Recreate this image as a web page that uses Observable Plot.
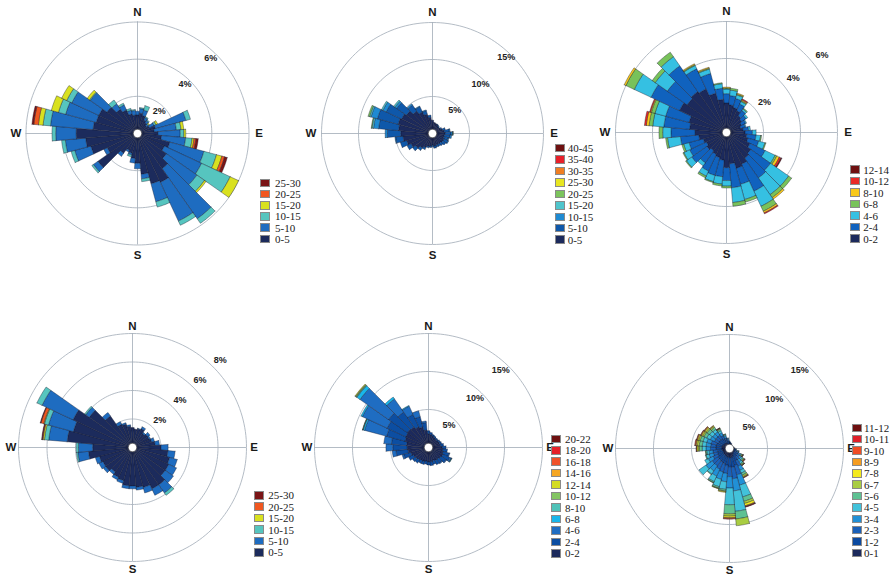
<!DOCTYPE html>
<html><head><meta charset="utf-8">
<script src="https://cdn.jsdelivr.net/npm/d3@7"></script>
<script src="https://cdn.jsdelivr.net/npm/@observablehq/plot@0.6"></script>
<style>
body{margin:0;background:#fff;}
#wrap{position:relative;width:891px;height:576px;overflow:hidden;background:#fff;}
.rose{position:absolute;}
.legend{position:absolute;left:0;top:0;font-family:"Liberation Serif","Times New Roman","DejaVu Serif",serif;font-size:11px;color:#1a1a1a;line-height:1;}
.legend .sw{position:absolute;width:8px;height:6.5px;border:1px solid #8a8a8a;}
.legend .tx{position:absolute;white-space:nowrap;line-height:12px;height:12px;}
</style></head><body><div id="wrap"></div>
<script>
// ---- directions (sector centres, degrees clockwise from north)
const directions = d3.range(0, 360, 10);
const compass = ["N", "E", "S", "W"];

// ---- speed bins and colours
const bins1 = ["0-5","5-10","10-15","15-20","20-25","25-30"];
const colors1 = ["#1c2b5c","#1e6cc0","#56c5bf","#d9e11f","#f0571f","#7a1416"];
const bins2 = ["0-5","5-10","10-15","15-20","20-25","25-30","30-35","35-40","40-45"];
const colors2 = ["#1c2a5c","#0f58aa","#1f8ad2","#4fc5cc","#7cc45c","#e8e620","#f07e22","#e8202a","#6e1010"];
const bins3 = ["0-2","2-4","4-6","6-8","8-10","10-12","12-14"];
const colors3 = ["#1c2a5c","#1062be","#35c0e2","#78c25a","#f9c91a","#ea2a26","#6e1010"];
const bins4 = ["0-5","5-10","10-15","15-20","20-25","25-30"];
const colors4 = ["#1c2b5c","#1e6cc0","#56c5bf","#d9e11f","#f0571f","#7a1416"];
const bins5 = ["0-2","2-4","4-6","6-8","8-10","10-12","12-14","14-16","16-18","18-20","20-22"];
const colors5 = ["#1c2a5c","#0c4ea2","#1f6dc2","#18b6ea","#4fc2b8","#84c563","#d4dc22","#f5a623","#f0522a","#e62029","#6e1010"];
const bins6 = ["0-1","1-2","2-3","3-4","4-5","5-6","6-7","7-8","8-9","9-10","10-11","11-12"];
const colors6 = ["#1c2a5c","#0c4aa0","#1a60b8","#2190d6","#42c2da","#5ec192","#a9cd42","#f4ea1e","#f59c20","#f04c24","#e0202a","#6e1010"];

// ---- ring (tick) values
const rings1 = [2, 4, 6];
const rings2 = [5, 10, 15];
const rings3 = [2, 4, 6];
const rings4 = [2, 4, 6, 8];
const rings5 = [5, 10, 15];
const rings6 = [5, 10, 15];

// ---- frequencies (%) per direction (0,10,...,350), per speed bin
const freq1 = [
[1.0,0.2],[1.1,0.25,0.05],[1.0,0.3,0.25],[0.8,0.15,0.05],[0.7,0.15,0.05],[0.6,0.1,0.05,0.05],
[0.7,0.3,0.1,0.1],[1.0,1.7,0.25],[0.9,1.2,0.25,0.15],[1.1,1.2,0.2,0.1],[1.3,1.3,0.35,0.1,0.1,0.13],[1.8,1.9,0.7,0.3,0.15,0.15],
[1.6,2.2,1.7,0.5],[1.9,2.0,0.5,0.1],[2.3,3.3,0.3],[2.9,2.3,0.25],[2.8,1.0,0.3],[2.2,0.25,0.15],
[1.6,0.3],[1.35,0.25],[1.1,0.1,0.1],[1.0,0.1],[1.3,0.2],[2.6,0.3,0.1],
[1.8,0.2],[2.6,0.9,0.2],[2.8,1.1,0.2],[3.3,1.1,0.2],[2.4,2.3,0.4,0.25,0.25,0.1],[2.3,1.7,0.4,0.4],
[2.3,1.6,0.3,0.3],[2.0,1.1,0.05,0.15],[1.6,0.35,0.25],[1.4,0.3,0.1],[1.1,0.2,0.1],[1.0,0.25,0.05]
];
const freq2 = [
[1.8],[1.5],[1.4],[1.3,0.1],[1.2,0.1],[1.1,0.1],
[1.2,0.2],[1.4,0.4],[1.6,0.7,0.1],[1.7,0.8,0.2,0.05,0.05],[1.6,0.8,0.2],[1.6,0.6,0.1],
[1.7,0.6,0.1],[1.7,0.5],[1.6,0.4],[1.6,0.3],[1.6,0.3],[1.7,0.3],
[1.6,0.2],[1.7,0.2],[1.8,0.2],[2.1,0.3],[2.4,0.4],[2.8,0.5],
[3.2,0.6],[3.6,0.9],[4.0,1.0,0.1],[4.3,1.8,0.3],[4.6,2.7,0.7,0.2,0.1],[4.8,2.9,0.9,0.2,0.2],
[4.6,2.3,0.5,0.2],[4.3,1.6,0.3,0.2],[3.7,1.0,0.2],[3.2,0.8,0.1],[2.7,0.5,0.1],[2.2,0.3]
];
const freq3 = [
[1.6,0.5,0.25,0.05,0.05],[1.5,0.5,0.3,0.1],[1.4,0.5,0.2,0.05,0.05],[1.3,0.4,0.15,0.05,0.05,0.05],[1.1,0.35,0.1,0.05],[1.0,0.3,0.1],
[0.9,0.25,0.05],[0.8,0.25,0.05],[0.9,0.3,0.1],[1.0,0.4,0.2],[1.1,0.5,0.25,0.05],[1.2,0.6,0.35,0.05],
[1.4,0.9,0.6,0.1,0.15,0.1,0.05],[1.6,1.3,1.2,0.2],[1.7,1.3,1.1,0.2,0.1],[1.9,1.6,0.9,0.3,0.1,0.05],[2.0,0.9,0.85,0.15],[1.7,1.3,0.8,0.2],
[1.9,0.7,0.3,0.1],[1.5,0.9,0.4,0.1],[1.4,1.0,0.35,0.05],[1.3,1.0,0.3,0.1],[1.2,0.8,0.2],[1.3,1.0,0.35,0.05],
[1.2,1.0,0.35,0.05],[1.3,0.8,0.3,0.1],[1.5,1.0,0.7,0.1],[1.7,1.3,0.45,0.2],[2.0,1.4,0.6,0.2,0.15,0.1],[2.1,1.3,0.6,0.2,0.05,0.05],
[2.8,1.7,1.0,0.5,0.1],[2.6,1.3,0.8,0.2],[2.7,1.7,0.6,0.3],[2.6,1.2,0.2,0.05,0.05],[2.2,1.1,0.25,0.05,0.05],[1.8,0.6,0.25,0.05]
];
const freq4 = [
[1.4],[1.3],[1.35,0.05],[1.45,0.15],[1.2,0.1],[1.3,0.2],
[1.3,0.1],[1.4,0.2],[1.6,0.3],[2.0,0.5],[2.5,0.5],[2.7,0.55],
[2.8,0.6],[2.8,0.7],[3.2,0.7,0.2],[3.2,0.5],[2.9,0.4],[2.8,0.2],
[2.7,0.2],[2.7,0.2],[2.4,0.2],[2.3,0.2],[2.1,0.2],[2.3,0.2],
[2.3,0.3],[2.4,0.3],[3.1,0.75,0.1],[2.8,1.0,0.15],[4.6,1.3,0.3,0.1,0.05,0.05],[4.3,1.8,0.3,0.05,0.2,0.05],
[4.6,2.4,0.4],[3.7,0.3,0.1],[2.7,0.3],[1.8,0.2],[1.7,0.1],[1.5,0.1]
];
const freq5 = [
[1.8,0.4],[1.7,0.3],[1.6,0.2],[1.5,0.2],[1.4,0.2],[1.4,0.2],
[1.5,0.2],[1.5,0.3],[1.6,0.4],[1.8,0.5],[1.9,0.6],[2.0,0.8,0.1],
[2.1,1.0,0.2,0.05,0.05],[2.0,0.8,0.1],[1.9,0.6,0.1],[1.9,0.6],[1.8,0.5],[1.9,0.5],
[1.9,0.4],[1.8,0.4],[1.9,0.4],[1.9,0.4],[2.0,0.5],[2.1,0.5],
[2.2,0.7],[2.4,1.0,0.2],[2.7,1.6,0.5],[2.8,1.9,0.9],[2.9,2.0,1.0],[3.2,2.5,3.0,0.2,0.05,0.05],
[3.3,2.7,3.6,0.2],[3.4,3.0,4.6,0.5,0.1,0.1,0.1],[3.3,2.4,2.1,0.3],[3.0,1.8,1.2,0.1],[2.8,1.4,0.8],[2.3,1.0,0.2]
];
const freq6 = [
[0.5,0.25,0.15,0.1],[0.45,0.2,0.1,0.05],[0.4,0.2,0.1],[0.35,0.15,0.1],[0.3,0.1,0.1],[0.3,0.1,0.1],
[0.3,0.1,0.1],[0.3,0.1,0.1],[0.3,0.15,0.1,0.05],[0.35,0.15,0.1,0.1],[0.4,0.2,0.15,0.1,0.05],[0.5,0.3,0.2,0.15,0.1,0.05],
[0.6,0.4,0.3,0.25,0.15,0.1,0.1,0.05,0.03,0.02],[0.7,0.5,0.4,0.3,0.2,0.15,0.1,0.05,0.05,0.05],[0.7,0.6,0.5,0.4,0.25,0.15,0.1,0.05,0.03,0.02],[0.9,0.9,0.8,0.6,0.4,0.3,0.2,0.1,0.05,0.05],[1.1,1.2,1.3,1.4,1.6,0.6,0.3,0.3,0.1,0.05,0.05],[1.2,1.3,1.5,1.6,2.7,1.0,0.9],
[1.2,1.2,1.3,1.5,2.2,1.2,0.3,0.2,0.1,0.1],[1.1,1.1,1.1,1.1,1.0,0.2,0.1,0.1],[1.1,1.0,1.1,1.0,1.0,0.2,0.05,0.05],[1.0,1.0,1.0,1.0,0.8,0.15,0.05],[1.0,0.9,0.9,0.8,0.5,0.1],[1.0,0.9,0.9,1.0,1.1],
[0.9,0.8,0.7,0.7,0.5],[0.9,0.7,0.6,0.6,0.4,0.1],[0.9,0.7,0.6,0.5,0.3,0.15,0.05],[1.0,0.8,0.7,0.6,0.5,0.35,0.2,0.15,0.05,0.05],[1.0,0.8,0.7,0.6,0.5,0.4,0.25,0.15,0.1,0.1],[1.0,0.8,0.7,0.6,0.5,0.4,0.2,0.15,0.1,0.05],
[0.9,0.7,0.6,0.6,0.5,0.4,0.2,0.15,0.1,0.05],[0.9,0.7,0.6,0.5,0.5,0.4,0.2,0.15,0.1,0.05],[0.9,0.7,0.6,0.5,0.4,0.3,0.15,0.1,0.05],[0.8,0.6,0.5,0.4,0.3,0.2,0.1,0.05,0.03,0.02],[0.7,0.45,0.3,0.25,0.15,0.1,0.05],[0.6,0.35,0.25,0.15,0.05]
];

// ---- panel layout
const panels = [
  {freq: freq1, bins: bins1, colors: colors1, rings: rings1, cx: 137,   cy: 133.3, R: 111.5, lab: {ang: 44, off: -6},
   legend: {x: 260, tx: 275, y: 183, step: 11.16}},
  {freq: freq2, bins: bins2, colors: colors2, rings: rings2, cx: 431.7, cy: 133.3, R: 111,   lab: {ang: 44, off: -5},
   legend: {x: 555, tx: 567.7, y: 148, step: 11.46}},
  {freq: freq3, bins: bins3, colors: colors3, rings: rings3, cx: 725.8, cy: 131.7, R: 111,   lab: {ang: 51, off: 12},
   legend: {x: 849.5, tx: 863.3, y: 169.7, step: 11.5}},
  {freq: freq4, bins: bins4, colors: colors4, rings: rings4, cx: 131.7, cy: 446.7, R: 114,   lab: {ang: 45, off: 10},
   legend: {x: 254, tx: 268.3, y: 495.3, step: 11.4}},
  {freq: freq5, bins: bins5, colors: colors5, rings: rings5, cx: 427.7, cy: 446.7, R: 114,   lab: {ang: 43, off: -8},
   legend: {x: 550.7, tx: 565, y: 438.8, step: 11.45}},
  {freq: freq6, bins: bins6, colors: colors6, rings: rings6, cx: 729.3, cy: 447.7, R: 114,   lab: {ang: 42, off: -9},
   legend: {x: 851.7, tx: 864, y: 427.8, step: 11.38}}
];

const wrap = document.getElementById("wrap");
const HALF = 130;
const rad = d => d * Math.PI / 180;

function rose(p) {
  const maxR = p.rings[p.rings.length - 1];
  const u = maxR / p.R;           // data units per pixel
  const D = HALF * u;
  const pol = (deg, r) => [r * Math.sin(rad(deg)), r * Math.cos(rad(deg))];

  // wedge polygons
  const wedges = [];
  directions.forEach((dir, i) => {
    let r0 = 0;
    p.bins.forEach((b, j) => {
      const v = p.freq[i][j] || 0;
      if (v <= 0) return;
      const r1 = r0 + v, id = dir + "_" + j;
      const pts = [];
      for (let a = dir - 5; a <= dir + 5 + 1e-9; a += 1) pts.push(pol(a, r1));
      for (let a = dir + 5; a >= dir - 5 - 1e-9; a -= 1) pts.push(pol(a, r0));
      pts.push(pts[0]);
      pts.forEach(([x, y]) => wedges.push({id, bin: b, x, y}));
      r0 = r1;
    });
  });

  // ring circles
  const ringPts = [];
  p.rings.forEach(r => { for (let a = 0; a <= 360; a += 2) { const [x, y] = pol(a, r); ringPts.push({ring: r, x, y}); } });

  const dirLabels = compass.map((t, k) => { const [x, y] = pol(k * 90, 121.5 * u); return {t, x, y}; });
  const ringLabels = p.rings.map(r => { const [x, y] = pol(p.lab.ang, r + p.lab.off * u); return {t: r + "%", x, y}; });

  const svg = Plot.plot({
    width: 2 * HALF, height: 2 * HALF, margin: 0,
    x: {domain: [-D, D], axis: null},
    y: {domain: [-D, D], axis: null},
    color: {domain: p.bins, range: p.colors},
    style: {background: "transparent", overflow: "visible", fontFamily: "'Liberation Sans', Arial, sans-serif"},
    marks: [
      Plot.line(ringPts, {x: "x", y: "y", z: "ring", stroke: "#a6b0bb", strokeWidth: 0.85}),
      Plot.ruleX([0], {y1: () => -maxR, y2: () => maxR, stroke: "#a6b0bb", strokeWidth: 0.85}),
      Plot.ruleY([0], {x1: () => -maxR, x2: () => maxR, stroke: "#a6b0bb", strokeWidth: 0.85}),
      Plot.line(wedges, {x: "x", y: "y", z: "id", fill: "bin", stroke: "#15182a", strokeWidth: 0.45, strokeOpacity: 0.85}),
      Plot.dot([{x: 0, y: 0}], {x: "x", y: "y", r: 4.2, fill: "white", stroke: "#444", strokeWidth: 0.6}),
      Plot.text(dirLabels, {x: "x", y: "y", text: "t", fontSize: 11.5, fontWeight: "bold", fill: "#1a1a1a"}),
      Plot.text(ringLabels, {x: "x", y: "y", text: "t", fontSize: 9, fontWeight: "bold", fill: "#222"})
    ]
  });
  svg.classList.add("rose");
  svg.style.left = (p.cx - HALF) + "px";
  svg.style.top = (p.cy - HALF) + "px";
  wrap.appendChild(svg);

  // legend (highest bin on top)
  const lg = document.createElement("div");
  lg.className = "legend";
  const n = p.bins.length;
  for (let k = 0; k < n; k++) {
    const j = n - 1 - k;
    const yc = p.legend.y + k * p.legend.step;
    const sw = document.createElement("div");
    sw.className = "sw";
    sw.style.background = p.colors[j];
    sw.style.left = p.legend.x + "px";
    sw.style.top = (yc - 4.25) + "px";
    const tx = document.createElement("div");
    tx.className = "tx";
    tx.textContent = p.bins[j];
    tx.style.left = p.legend.tx + "px";
    tx.style.top = (yc - 6) + "px";
    lg.appendChild(sw); lg.appendChild(tx);
  }
  wrap.appendChild(lg);
}
panels.forEach(rose);
</script></body></html>
